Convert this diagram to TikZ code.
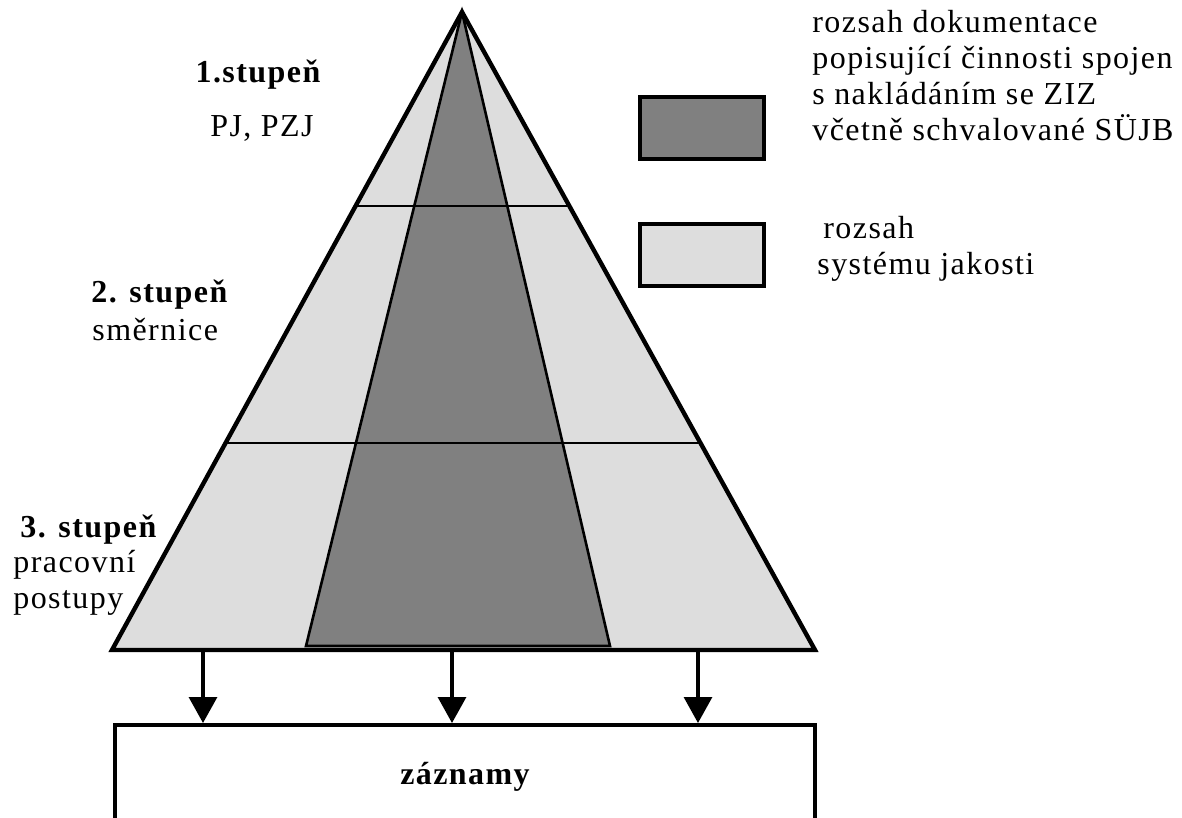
\documentclass[tikz,border=0pt]{standalone}
\usepackage{fontspec}
\setmainfont{Liberation Serif}[LetterSpace=4.5]
\usetikzlibrary{positioning, calc, arrows.meta}
\definecolor{Dark}{HTML}{808080}
\definecolor{Light}{HTML}{DDDDDD}
\tikzset{
    outline/.style={draw=black, line width=2.2pt, line join=miter},
    divider/.style={draw=black, line width=1.3pt},
    legendbox/.style={rectangle, draw=black, line width=1.8pt, minimum width=62pt, minimum height=31pt, inner sep=0pt},
    stagetitle/.style={font=\fontsize{16}{18}\selectfont\bfseries, inner sep=0pt},
    stagetext/.style={font=\fontsize{16}{18}\selectfont, inner sep=0pt, align=left},
    arrow/.style={-{Triangle[length=13pt,width=14pt]}, line width=1.6pt},
}
\begin{document}
\begin{tikzpicture}[x=0.5pt, y=-0.5pt]
    \useasboundingbox (0,0) rectangle (1182,818);
    \clip (0,0) rectangle (1182,818);

    % Pyramida
    \coordinate (apex) at (462,12);
    \coordinate (bl) at (112,650);
    \coordinate (br) at (815,650);
    \fill[Light] (apex) -- (bl) -- (br) -- cycle;

    % tmavy klin (ZIZ)
    \filldraw[fill=Dark, divider] (apex) -- (306,646) -- (610,646) -- cycle;

    % hranice stupnu
    \draw[divider] ($(apex)!0.304!(bl)$) -- ($(apex)!0.304!(br)$);
    \draw[divider] ($(apex)!0.6755!(bl)$) -- ($(apex)!0.6755!(br)$);

    \draw[outline] (apex) -- (bl) -- (br) -- cycle;

    % Stupne
    \node[stagetitle] (st1) at (258,75) {1.stupeň};
    \node[stagetext] (st1t) at (262,128) {PJ, PZJ};
    \node[stagetitle, anchor=west] (st2) at (91,295) {2. stupeň};
    \node[stagetext, anchor=west] (st2t) at (92,330) {směrnice};
    \node[stagetitle, anchor=west] (st3) at (20,530) {3. stupeň};
    \node[stagetext, anchor=north west] (st3t) at (13,550) {pracovní\\postupy};

    % Legenda
    \node[legendbox, fill=Dark, anchor=north west] (legdark) at (638,95) {};
    \node[legendbox, fill=Light, anchor=north west] (leglight) at (638,222) {};
    \node[stagetext, anchor=north west] (legdarkt) at (812,10) {rozsah dokumentace\\popisující činnosti spojen\\s nakládáním se ZIZ\\včetně schvalované SÜJB};
    \node[stagetext, anchor=north west] (leglightt) at (823,216) {rozsah\\\hspace*{-3pt}systému jakosti};

    % Zaznamy
    \node[draw=black, line width=2pt, minimum width=350pt, minimum height=52pt, font=\fontsize{16}{18}\selectfont\bfseries] (zaznamy) at (465,777) {záznamy};

    % Sipky
    \coordinate (a1) at (203,650);
    \coordinate (a2) at (452,650);
    \coordinate (a3) at (698,650);
    \foreach \a in {a1,a2,a3}
        \draw[arrow] (\a) -- (\a |- zaznamy.north);
\end{tikzpicture}
\end{document}
